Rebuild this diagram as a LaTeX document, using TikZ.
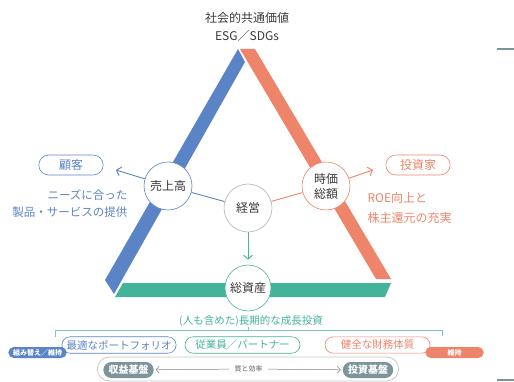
\documentclass[tikz,border=0pt]{standalone}
\usepackage{fontspec}
\setmainfont{Noto Sans CJK JP}
\usetikzlibrary{arrows.meta,shapes.misc,positioning}
\definecolor{barblue}{HTML}{5B84C6}
\definecolor{barorange}{HTML}{EE8469}
\definecolor{bargreen}{HTML}{43B399}
\definecolor{pillgray}{HTML}{7E949B}
\definecolor{txtgray}{HTML}{3A3A3A}

\begin{document}
\begin{tikzpicture}[x=1pt, y=-1pt,
  hub/.style={circle, draw, fill=white, minimum size=48pt, inner sep=0pt, line width=0.6pt, font=\fontsize{12}{15}\selectfont, text=txtgray, align=center},
  party/.style={rounded rectangle, draw, line width=0.6pt, minimum width=71pt, minimum height=20pt, font=\fontsize{12}{14}\selectfont},
  pill/.style={rounded rectangle, draw, fill=white, line width=0.6pt, minimum height=15pt, inner xsep=3pt, font=\fontsize{10.5}{12}\selectfont},
  tag/.style={rounded rectangle, minimum width=65pt, minimum height=11pt, inner ysep=0pt, text=white, font=\fontsize{7}{8}\selectfont\bfseries},
  base/.style={rounded rectangle, fill=pillgray, text=white, minimum width=57pt, minimum height=16pt, inner ysep=0pt, font=\fontsize{10}{12}\selectfont\bfseries},
  flow/.style={line width=0.9pt, -{Straight Barb[length=4pt,width=9pt]}},
  thinflow/.style={line width=0.5pt, shorten >=2pt, shorten <=2pt, -{Straight Barb[length=3pt,width=7pt]}},
]
\useasboundingbox (0,0) rectangle (514,382);

% Triangle bars
\fill[barblue] (238,49) -- (245,62) -- (114,294) -- (105,280) -- cycle;
\fill[barorange] (240,49) -- (255,49) -- (391,279) -- (376,279) -- cycle;
\fill[bargreen] (123,283) -- (391,283) -- (385,297) -- (115,297) -- cycle;

% Title
\node[font=\fontsize{12}{18}\selectfont, text=txtgray, align=center] (title) at (247,27) {社会的共通価値\\ESG／SDGs};

% Circles
\node[hub, draw=barblue] (sales) at (168,186) {売上高};
\node[hub, draw=gray!60] (mgmt) at (248,208) {経営};
\node[hub, draw=barorange] (mcap) at (326,186) {時価\\総額};
\node[hub, draw=bargreen, minimum size=46pt] (assets) at (248,288) {総資産};

% Stakeholders
\node[party, draw=barblue, text=barblue] (customer) at (71,165) {顧客};
\node[party, draw=barorange, text=barorange] (investor) at (418,165) {投資家};
\node[font=\fontsize{11.5}{17}\selectfont, text=barblue, align=right, anchor=east] (custtext) at (131,203.5) {ニーズに合った\\製品・サービスの提供};
\node[font=\fontsize{12}{20}\selectfont, text=barorange, align=left, anchor=west] (invtext) at (364,208) {ROE向上と\\株主還元の充実};

% Arrows
\coordinate (custtip) at (116,170);
\coordinate (invtip) at (373,170);
\draw[barblue, line width=0.9pt] (mgmt) -- (sales);
\draw[flow, barblue] (sales) -- (custtip);
\draw[barorange, line width=0.9pt] (mgmt) -- (mcap);
\draw[flow, barorange] (mcap) -- (invtip);
\draw[flow, bargreen, shorten >=5pt] (mgmt) -- (assets);

% Growth investment bracket
\node[font=\fontsize{10.5}{12}\selectfont, text=bargreen] (growth) at (251,321) {(人も含めた)長期的な成長投資};
\coordinate (brl) at (55,337);
\coordinate (brr) at (442,336);
\draw[bargreen!70, line width=0.6pt] (brl) -- (55,330) -- (442,330) -- (brr);
\draw[bargreen!70, line width=0.6pt] (248,330) -- (248,327);

% Pills
\node[pill, draw=barblue, text=barblue, minimum width=112pt] (portfolio) at (119,345) {最適なポートフォリオ};
\node[pill, draw=bargreen, text=bargreen, minimum width=121pt] (staff) at (242.5,345) {従業員／パートナー};
\node[pill, draw=barorange, text=barorange, minimum width=111pt] (finance) at (377.5,345) {健全な財務体質};
\node[tag, fill=barblue] (reform) at (37.5,352.5) {組み替え／維持};
\node[tag, fill=barorange] (keep) at (454.5,352.5) {維持};

% Foundations
\node[rounded rectangle, draw=gray!45, line width=0.8pt, minimum width=308pt, minimum height=24pt] (basebox) at (248,369) {};
\node[base] (profit) at (128.5,370) {収益基盤};
\node[base] (investbase) at (368,370) {投資基盤};
\node[font=\fontsize{7}{8}\selectfont, text=txtgray!80] (quality) at (248.5,369) {質と効率};
\draw[thinflow, gray] (quality) -- (profit);
\draw[thinflow, gray] (quality) -- (investbase);

% Edge marks
\draw[pillgray, line width=1.5pt] (497,49) -- (514,49);
\draw[pillgray, line width=1.5pt] (497,380) -- (514,380);

\end{tikzpicture}
\end{document}
